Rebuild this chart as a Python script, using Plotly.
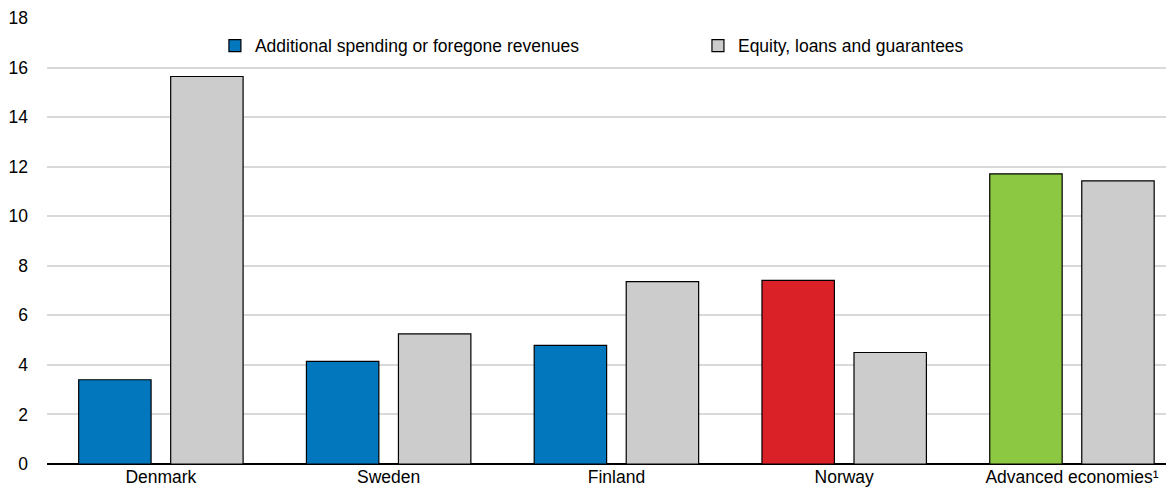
import plotly.graph_objects as go

categories = ["Denmark", "Sweden", "Finland", "Norway", "Advanced economies¹"]
spending = [3.4, 4.14, 4.79, 7.41, 11.71]
equity = [15.64, 5.25, 7.36, 4.5, 11.43]
spending_colors = ["#0277BD", "#0277BD", "#0277BD", "#DA2128", "#8CC841"]
equity_color = "#CCCCCC"
y_ticks = [0, 2, 4, 6, 8, 10, 12, 14, 16, 18]

font_family = "Liberation Sans, Arial, sans-serif"
fs = 17.5

fig = go.Figure()
fig.add_trace(go.Bar(
    x=categories, y=spending, name="Additional spending or foregone revenues",
    marker=dict(color=spending_colors, line=dict(color="#000000", width=1.2)),
    legend="legend",
))
fig.add_trace(go.Bar(
    x=categories, y=equity, name="Equity, loans and guarantees",
    marker=dict(color=equity_color, line=dict(color="#000000", width=1.2)),
    legend="legend2",
))

legend_common = dict(orientation="h", xanchor="left", y=0.938, yanchor="middle",
                     bgcolor="rgba(0,0,0,0)", font=dict(size=fs))

# the page body has an 8px margin, so the figure is sized to fit the window
fig.update_layout(
    width=1166, height=484,
    margin=dict(l=39, r=0, t=10, b=28),
    paper_bgcolor="white", plot_bgcolor="white",
    barmode="group", bargap=0.192, bargroupgap=0.213,
    font=dict(family=font_family, size=fs, color="#000000"),
    showlegend=True,
    legend=dict(x=0.149, **legend_common),
    legend2=dict(x=0.5776, **legend_common),
    xaxis=dict(showgrid=False, showline=False, ticks="", tickfont=dict(size=fs),
               range=[-0.5, 4.448], automargin=False, fixedrange=True),
    yaxis=dict(range=[0, 18], tickvals=y_ticks, showgrid=True, gridcolor="#D9D9D9",
               gridwidth=1.5, zeroline=True, zerolinecolor="#000000", zerolinewidth=1.5,
               showline=False, ticks="", ticklabelstandoff=18, tickfont=dict(size=fs),
               automargin=False),
)

fig.write_html("out.html")
